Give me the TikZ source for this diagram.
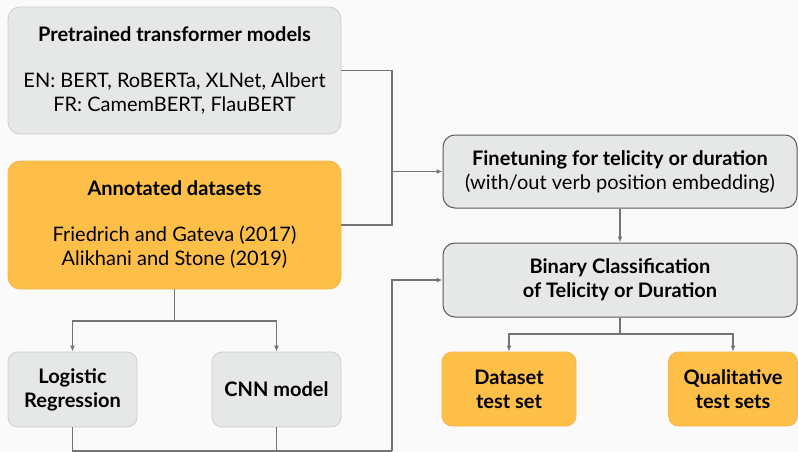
\documentclass[tikz,border=0pt]{standalone}
\usepackage{fontspec}
\setmainfont{Lato}
\usetikzlibrary{arrows.meta}

\definecolor{boxgrey}{HTML}{E6E7E7}
\definecolor{boxedge}{HTML}{CDCECE}
\definecolor{boxorange}{HTML}{FDBF47}
\definecolor{orangeedge}{HTML}{EDB850}
\definecolor{linegrey}{HTML}{747474}
\definecolor{bggrey}{HTML}{FAFAFA}

\tikzset{
  box/.style={rounded corners=12pt, inner sep=0pt, align=center, line width=0.8pt,
    font=\fontsize{20}{24}\selectfont},
  greybox/.style={box, fill=boxgrey, draw=boxedge},
  orangebox/.style={box, fill=boxorange, draw=orangeedge},
  darkbox/.style={box, fill=boxgrey, draw=black!65, line width=1pt},
  link/.style={draw=linegrey, line width=1.3pt},
  arr/.style={link, -{Latex[length=6pt,width=5pt]}}
}

\begin{document}
\begin{tikzpicture}[x=1pt, y=-1pt]
\fill[bggrey] (0,0) rectangle (798,452);
\useasboundingbox (0,0) rectangle (798,452);

% left column
\node [greybox, minimum width=333pt, minimum height=127pt] (pre) at (174.5,70.5)
  {\textbf{Pretrained transformer models}\\[22pt]EN: BERT, RoBERTa, XLNet, Albert\\FR: CamemBERT, FlauBERT};
\node [orangebox, minimum width=333pt, minimum height=128pt] (ann) at (174.5,225)
  {\textbf{Annotated datasets}\\[22pt]Friedrich and Gateva (2017)\\Alikhani and Stone (2019)};
\node [greybox, rounded corners=10pt, minimum width=129pt, minimum height=75pt] (logreg) at (72.5,389.5)
  {\textbf{Logistic}\\\textbf{Regression}};
\node [greybox, rounded corners=10pt, minimum width=129pt, minimum height=75pt] (cnn) at (276.5,389.5)
  {\textbf{CNN model}};

% right column
\node [darkbox, minimum width=354pt, minimum height=73pt] (fine) at (620,171.5)
  {\textbf{Finetuning for telicity or duration}\\(with/out verb position embedding)};
\node [darkbox, minimum width=354pt, minimum height=74pt] (binary) at (620,280)
  {\textbf{Binary Classification}\\\textbf{of Telicity or Duration}};
\node [orangebox, rounded corners=10pt, minimum width=134pt, minimum height=74pt] (dset) at (509,389)
  {\textbf{Dataset}\\\textbf{test set}};
\node [orangebox, rounded corners=10pt, minimum width=129pt, minimum height=74pt] (qual) at (733,389)
  {\textbf{Qualitative}\\\textbf{test sets}};

% connectors
\coordinate (jn) at (392,171.5);
\draw [link] (pre.east) -| (jn) |- (ann.east);
\draw [arr] (jn) -- (fine.west);
\draw [arr] (fine) -- (binary);

\coordinate (split1) at (174.5,321);
\draw [link] (ann.south) -- (split1);
\draw [arr] (split1) -| (logreg.north);
\draw [arr] (split1) -| (cnn.north);

\coordinate (bot) at (392,451);
\draw [link] (logreg.south) |- (bot);
\draw [link] (cnn.south) -- (cnn.south |- bot);
\draw [arr] (bot) |- (binary.west);

\coordinate (split2) at (620,334);
\draw [link] (binary.south) -- (split2);
\draw [arr] (split2) -| (dset.north);
\draw [arr] (split2) -| (qual.north);
\end{tikzpicture}
\end{document}
